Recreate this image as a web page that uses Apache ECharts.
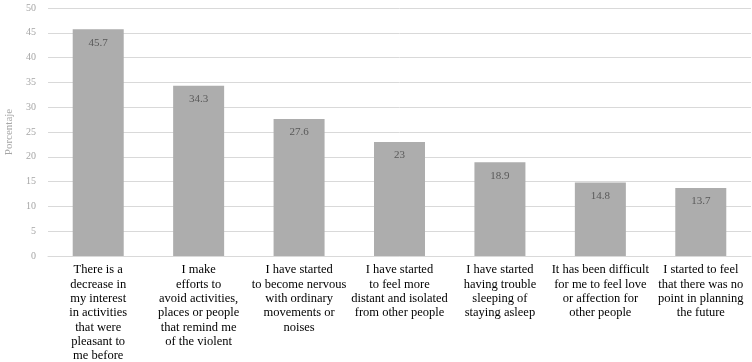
<!DOCTYPE html>
<html>
<head>
<meta charset="utf-8">
<script src="https://cdn.jsdelivr.net/npm/echarts@6/dist/echarts.min.js"></script>
<style>
html, body { margin: 0; padding: 0; background: #fff; }
#chart { width: 752px; height: 362px; }
</style>
</head>
<body>
<div id="chart"></div>
<script>
// categorias (saltos de linea como en el original)
var categories = [
	'There is a\ndecrease in\nmy interest\nin activities\nthat were\npleasant to\nme before',
	'I make\nefforts to\navoid activities,\nplaces or people\nthat remind me\nof the violent',
	'I have started\nto become nervous\nwith ordinary\nmovements or\nnoises',
	'I have started\nto feel more\ndistant and isolated\nfrom other people',
	'I have started\nhaving trouble\nsleeping of\nstaying asleep',
	'It has been difficult\nfor me to feel love\nor affection for\nother people',
	'I started to feel\nthat there was no\npoint in planning\nthe future'
];
var values = [45.7, 34.3, 27.6, 23, 18.9, 14.8, 13.7];
var yTicks = { min: 0, max: 50, interval: 5 };

var chart = echarts.init(document.getElementById('chart'));
var serif = '"Liberation Serif", "DejaVu Serif", serif';

var option = {
	animation: false,
	grid: { left: 48, right: 1, top: 8, bottom: 106, outerBoundsMode: 'none', containLabel: false },
	xAxis: {
		type: 'category',
		data: categories,
		axisLine: { lineStyle: { color: '#d9d9d9' } },
		axisTick: { show: false },
		axisLabel: {
			interval: 0,
			color: '#000',
			fontFamily: serif,
			fontSize: 12.5,
			lineHeight: 14.3,
			margin: 7
		}
	},
	yAxis: {
		type: 'value',
		min: yTicks.min,
		max: yTicks.max,
		interval: yTicks.interval,
		name: 'Porcentaje',
		nameLocation: 'middle',
		nameGap: 31,
		nameTextStyle: { color: '#a6a6a6', fontFamily: serif, fontSize: 11 },
		axisLine: { show: false },
		axisTick: { show: false },
		axisLabel: { color: '#a6a6a6', fontFamily: serif, fontSize: 10, margin: 12 },
		splitLine: { lineStyle: { color: '#d9d9d9' } }
	},
	series: [
		{
			type: 'bar',
			data: values,
			barWidth: 51,
			itemStyle: { color: '#adadad' },
			label: {
				show: true,
				position: 'insideTop',
				distance: 8,
				color: '#595959',
				fontFamily: serif,
				fontSize: 11
			}
		}
	]
};
chart.setOption(option);
</script>
</body>
</html>
